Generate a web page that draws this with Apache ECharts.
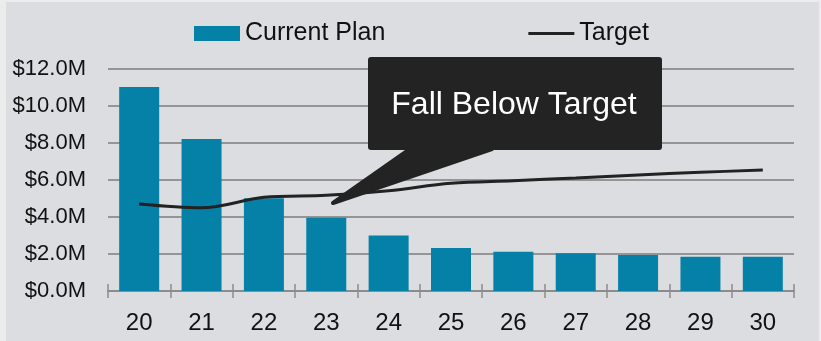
<!DOCTYPE html>
<html>
<head>
<meta charset="utf-8">
<script src="https://cdn.jsdelivr.net/npm/echarts@6/dist/echarts.min.js"></script>
<style>
  html, body { margin: 0; padding: 0; background: #ececec; }
  #wrap { position: relative; width: 821px; height: 341px; }
  #panel { position: absolute; left: 6px; top: 2px; width: 813px; height: 339px; background: #dcdde0; }
  #chart { position: absolute; left: 0; top: 0; width: 821px; height: 341px; }
</style>
</head>
<body>
<div id="wrap">
  <div id="panel"></div>
  <div id="chart"></div>
</div>
<script>
// Plan years (two-digit) and values in $M
const years = ['20', '21', '22', '23', '24', '25', '26', '27', '28', '29', '30'];
const currentPlan = [11.0, 8.2, 5.0, 3.95, 3.0, 2.32, 2.12, 2.03, 1.94, 1.85, 1.85];
const target = [4.69, 4.49, 5.05, 5.16, 5.41, 5.81, 5.95, 6.10, 6.26, 6.40, 6.53];
const yTicks = [0, 2, 4, 6, 8, 10, 12];
const calloutText = 'Fall Below Target';

const FONT = "'Liberation Sans', Arial, sans-serif";
const chart = echarts.init(document.getElementById('chart'), null, { renderer: 'canvas' });

chart.setOption({
  backgroundColor: 'transparent',
  animation: false,
  textStyle: { fontFamily: FONT },
  legend: {
    left: 194,
    top: 21,
    padding: 0,
    itemWidth: 46,
    itemHeight: 15,
    itemGap: 143,
    textStyle: { fontSize: 25, color: '#111', fontFamily: FONT },
    data: [
      { name: 'Current Plan', icon: 'rect' },
      // plain stroke swatch for the line series
      { name: 'Target', icon: 'path://M0,0H46V3H0Z' }
    ]
  },
  grid: { left: 108, right: 27, top: 68.5, bottom: 50 },
  xAxis: [
    {
      type: 'category',
      data: years,
      position: 'bottom',
      axisLine: { lineStyle: { color: '#8c8c8c', width: 2 } },
      axisTick: { show: true, length: 7, lineStyle: { color: '#8c8c8c', width: 1.5 } },
      axisLabel: { fontSize: 24, color: '#111', margin: 20, fontFamily: FONT },
      splitLine: { show: false }
    },
    {
      type: 'category',
      data: years,
      position: 'bottom',
      axisLine: { show: false },
      axisTick: { show: true, inside: true, length: 7, lineStyle: { color: '#8c8c8c', width: 1.5 } },
      axisLabel: { show: false },
      splitLine: { show: false }
    }
  ],
  yAxis: {
    type: 'value',
    min: yTicks[0],
    max: yTicks[yTicks.length - 1],
    interval: 2,
    axisLine: { show: false },
    axisTick: { show: false },
    axisLabel: {
      fontSize: 22,
      color: '#111',
      margin: 22,
      fontFamily: FONT,
      formatter: v => '$' + v.toFixed(1) + 'M'
    },
    splitLine: { lineStyle: { color: '#959595', width: 2 } }
  },
  series: [
    {
      name: 'Current Plan',
      type: 'bar',
      data: currentPlan,
      barWidth: 40,
      itemStyle: { color: '#0580a7' },
      z: 2
    },
    {
      name: 'Target',
      type: 'line',
      data: target,
      smooth: 0.35,
      symbol: 'none',
      lineStyle: { color: '#222222', width: 3 },
      itemStyle: { color: '#222222' },
      z: 3
    }
  ],
  graphic: [
    {
      type: 'polygon',
      z: 100,
      shape: { points: [[410, 149], [492, 149], [333, 203]] },
      style: { fill: '#232323', stroke: '#232323', lineWidth: 4, lineJoin: 'round' }
    },
    {
      type: 'rect',
      z: 101,
      shape: { x: 368, y: 57, width: 294, height: 93, r: 3 },
      style: { fill: '#232323' }
    },
    {
      type: 'text',
      z: 102,
      x: 514,
      y: 105,
      style: {
        text: calloutText,
        fill: '#ffffff',
        font: "32px 'Liberation Sans', Arial, sans-serif",
        textAlign: 'center',
        textVerticalAlign: 'middle'
      }
    }
  ]
});
</script>
</body>
</html>
